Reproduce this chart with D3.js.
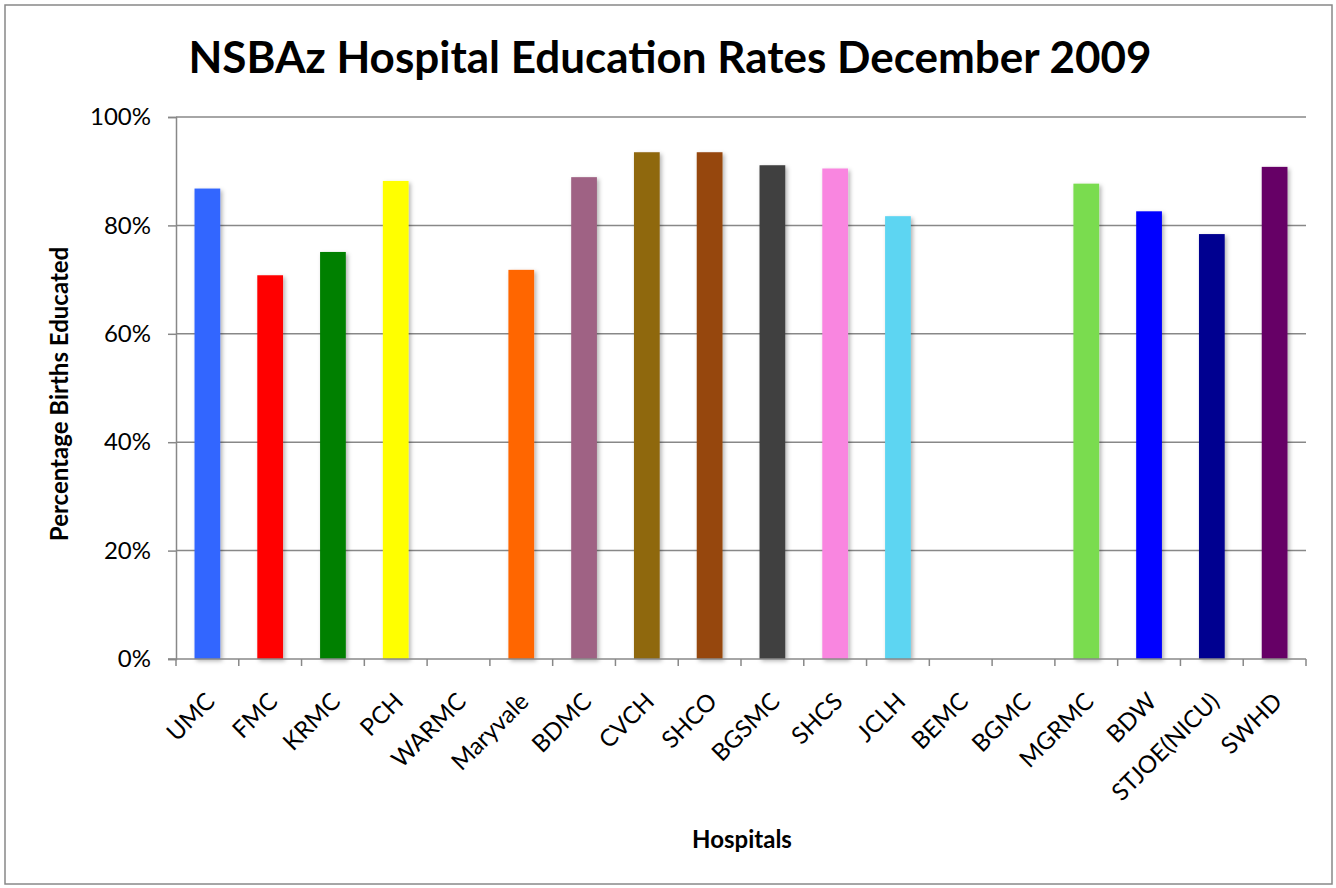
<!DOCTYPE html>
<html>
<head>
<meta charset="utf-8">
<script src="https://cdn.jsdelivr.net/npm/d3@7.9.0/dist/d3.min.js"></script>
<style>
  body { margin: 0; background: #fff; }
  svg { font-family: Lato, "Open Sans", sans-serif; }
</style>
</head>
<body>
<svg id="chart" width="1336" height="888"></svg>
<script>
const hospitals = ['UMC', 'FMC', 'KRMC', 'PCH', 'WARMC', 'Maryvale', 'BDMC', 'CVCH', 'SHCO',
  'BGSMC', 'SHCS', 'JCLH', 'BEMC', 'BGMC', 'MGRMC', 'BDW', 'STJOE(NICU)', 'SWHD'];
const rates = [0.868, 0.708, 0.751, 0.882, 0, 0.718, 0.889, 0.935, 0.935,
  0.911, 0.905, 0.817, 0, 0, 0.877, 0.826, 0.784, 0.908];
const barColors = ['#3366ff', '#ff0000', '#008000', '#ffff00', '#999999', '#ff6600', '#9f6284', '#8f6710', '#96460a',
  '#404040', '#f986e0', '#5dd5f2', '#999999', '#999999', '#7adc4f', '#0000ff', '#000090', '#660066'];
const yTicks = [0, 0.2, 0.4, 0.6, 0.8, 1.0];

const svg = d3.select('#chart');
const margin = { left: 176, right: 30, top: 117, bottom: 229 };
const width = 1336, height = 888;

// soft shadow behind bars
const defs = svg.append('defs');
const f = defs.append('filter').attr('id', 'shadow').attr('x', '-30%').attr('y', '-10%')
  .attr('width', '160%').attr('height', '120%');
f.append('feDropShadow').attr('dx', 2).attr('dy', 2).attr('stdDeviation', 2)
  .attr('flood-color', '#000').attr('flood-opacity', 0.3);

svg.append('rect')
  .attr('x', 5).attr('y', 5).attr('width', 1327).attr('height', 879)
  .attr('fill', 'none').attr('stroke', '#888').attr('stroke-width', 1.5);

const x = d3.scaleBand()
  .domain(hospitals)
  .range([margin.left, width - margin.right])
  .paddingInner(0.59).paddingOuter(0.295);

const y = d3.scaleLinear().domain([0, 1]).range([height - margin.bottom, margin.top]);

// gridlines
svg.append('g')
  .selectAll('line')
  .data(yTicks.slice(1))
  .join('line')
  .attr('x1', margin.left).attr('x2', width - margin.right)
  .attr('y1', d => y(d)).attr('y2', d => y(d))
  .attr('stroke', '#888').attr('stroke-width', 1.5);

// y axis
const yAxis = svg.append('g')
  .attr('transform', `translate(${margin.left},0)`)
  .call(d3.axisLeft(y).tickValues(yTicks).tickFormat(d3.format('.0%')).tickSizeOuter(0).tickSize(8).tickPadding(17));
yAxis.select('.domain').attr('stroke', '#888').attr('stroke-width', 1.5);
yAxis.selectAll('.tick line').attr('stroke', '#888').attr('stroke-width', 1.5);
yAxis.selectAll('text').attr('font-size', 24).attr('fill', '#000').attr('font-family', 'Lato, sans-serif');

// bars
svg.append('g')
  .selectAll('rect')
  .data(hospitals.map((h, i) => ({ h, v: rates[i], c: barColors[i] })).filter(d => d.v > 0))
  .join('rect')
  .attr('x', d => x(d.h))
  .attr('y', d => y(d.v))
  .attr('width', x.bandwidth())
  .attr('height', d => y(0) - y(d.v))
  .attr('fill', d => d.c)
  .attr('filter', 'url(#shadow)');

// x axis with ticks between categories
const boundaries = d3.range(hospitals.length + 1).map(i => margin.left + i * (width - margin.left - margin.right) / hospitals.length);
const xg = svg.append('g');
xg.append('line')
  .attr('x1', margin.left - 8).attr('x2', width - margin.right)
  .attr('y1', y(0)).attr('y2', y(0))
  .attr('stroke', '#888').attr('stroke-width', 1.5);
xg.selectAll('line.tk')
  .data(boundaries)
  .join('line')
  .attr('class', 'tk')
  .attr('x1', d => d).attr('x2', d => d)
  .attr('y1', y(0)).attr('y2', y(0) + 7)
  .attr('stroke', '#888').attr('stroke-width', 1.5);
xg.selectAll('text')
  .data(hospitals)
  .join('text')
  .attr('transform', d => `translate(${x(d) + x.bandwidth() / 2 + 9},${y(0) + 44}) rotate(-45)`)
  .attr('text-anchor', 'end')
  .attr('font-size', 24)
  .attr('fill', '#000')
  .text(d => d);

// titles
svg.append('text')
  .attr('x', 670).attr('y', 73)
  .attr('text-anchor', 'middle')
  .attr('font-size', 44).attr('font-weight', 'bold')
  .text('NSBAz Hospital Education Rates December 2009');

svg.append('text')
  .attr('transform', `translate(68,${(y(0) + y(1)) / 2 + 6}) rotate(-90)`)
  .attr('text-anchor', 'middle')
  .attr('font-size', 24).attr('font-weight', 'bold')
  .text('Percentage Births Educated');

svg.append('text')
  .attr('x', 742).attr('y', 848)
  .attr('text-anchor', 'middle')
  .attr('font-size', 24).attr('font-weight', 'bold')
  .text('Hospitals');
</script>
</body>
</html>
